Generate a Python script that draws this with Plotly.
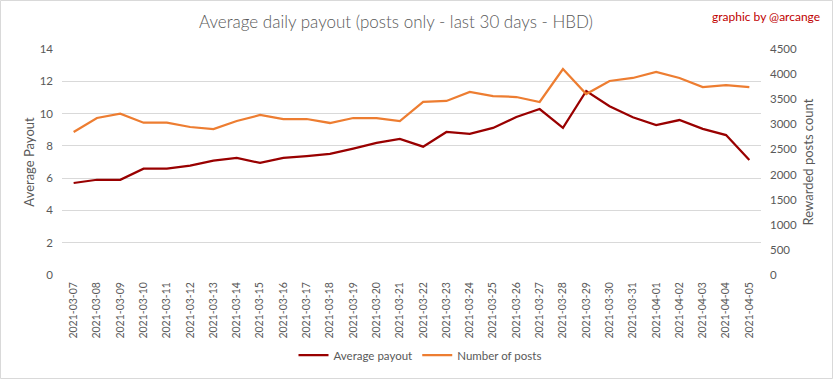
import plotly.graph_objects as go

dates = ["2021-03-07","2021-03-08","2021-03-09","2021-03-10","2021-03-11","2021-03-12","2021-03-13",
         "2021-03-14","2021-03-15","2021-03-16","2021-03-17","2021-03-18","2021-03-19","2021-03-20",
         "2021-03-21","2021-03-22","2021-03-23","2021-03-24","2021-03-25","2021-03-26","2021-03-27",
         "2021-03-28","2021-03-29","2021-03-30","2021-03-31","2021-04-01","2021-04-02","2021-04-03",
         "2021-04-04","2021-04-05"]
avg_payout = [5.70, 5.90, 5.90, 6.59, 6.59, 6.77, 7.08, 7.25, 6.94, 7.25, 7.37, 7.50, 7.83, 8.18,
              8.43, 7.95, 8.86, 8.74, 9.11, 9.79, 10.28, 9.11, 11.40, 10.45, 9.77, 9.29, 9.60, 9.05,
              8.67, 7.12]
num_posts = [2847, 3126, 3212, 3033, 3033, 2947, 2907, 3066, 3186, 3106, 3106, 3027, 3126, 3126,
             3066, 3445, 3465, 3644, 3564, 3544, 3445, 4102, 3604, 3863, 3923, 4042, 3923, 3743,
             3783, 3743]

W, H = 833, 379
L, R, T, B = 62, 72, 49, 104
pw, ph = W - L - R, H - T - B

font = "Lato, 'Open Sans', sans-serif"
grey = "#595959"

fig = go.Figure()
fig.add_trace(go.Scatter(x=dates, y=avg_payout, name="Average payout", mode="lines",
                         line=dict(color="#990000", width=2.25), yaxis="y"))
fig.add_trace(go.Scatter(x=dates, y=num_posts, name="Number of posts", mode="lines",
                         line=dict(color="#ED7D31", width=2.25), yaxis="y2"))

fig.update_layout(
    width=W, height=H,
    margin=dict(l=L, r=R, t=T, b=B, autoexpand=False),
    paper_bgcolor="white", plot_bgcolor="white",
    font=dict(family=font, color=grey, size=11),
    title=dict(text="Average daily payout (posts only - last 30 days - HBD)",
               x=396 / W, xanchor="center", xref="container",
               y=1 - 22 / H, yanchor="middle", automargin=False,
               font=dict(family=font, size=17, color=grey, weight=300)),
    xaxis=dict(type="category", tickangle=-90, showgrid=False, showline=False,
               ticks="", range=[-0.5, len(dates) - 0.5], automargin=False,
               ticklabelstandoff=4,
               tickfont=dict(size=10.5, color=grey)),
    yaxis=dict(range=[0, 14], dtick=2, showgrid=True, gridcolor="#D9D9D9", gridwidth=1,
               zeroline=False, showline=False, ticks="", automargin=False,
               ticklabelstandoff=8,
               title=dict(text="Average Payout", font=dict(size=13, color=grey), standoff=2),
               tickfont=dict(size=11.5, color=grey)),
    yaxis2=dict(range=[0, 4500], dtick=500, overlaying="y", side="right", showgrid=False,
                zeroline=False, showline=False, ticks="", automargin=False,
                ticklabelstandoff=8,
                title=dict(text="Rewarded posts count", font=dict(size=13, color=grey), standoff=7),
                tickfont=dict(size=11.5, color=grey)),
    legend=dict(orientation="h", x=420 / W, xanchor="center", xref="container",
                y=1 - 355 / H, yref="container", yanchor="middle",
                font=dict(size=11.5, color=grey), itemwidth=30),
    showlegend=True,
)

fig.add_annotation(text="graphic by @arcange", xref="paper", yref="paper",
                   x=(822 - L) / pw, y=1 + (T - 16) / ph,
                   xanchor="right", yanchor="middle", showarrow=False,
                   font=dict(family=font, size=12, color="#C00000"))

fig.add_shape(type="rect", xref="paper", yref="paper",
              x0=(0.5 - L) / pw, x1=(W - 0.5 - L) / pw,
              y0=-(B - 0.5) / ph, y1=1 + (T - 0.5) / ph,
              line=dict(color="#D9D9D9", width=1))

fig.write_html("out.html", config={"displayModeBar": False},
               post_script="document.body.style.margin='0';document.body.style.overflow='hidden';")
